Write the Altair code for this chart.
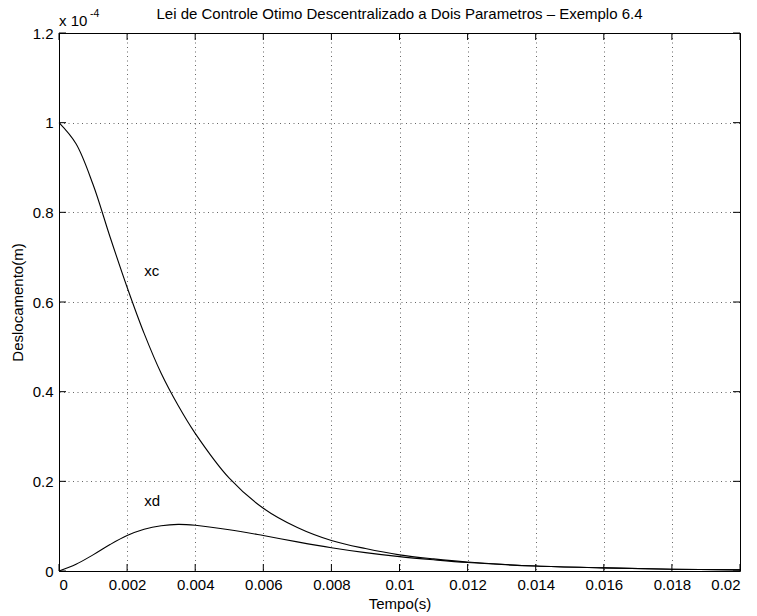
import altair as alt
import pandas as pd

# Data (displacement in units of 1e-4 m)
t = [0, 0.0005, 0.001, 0.0015, 0.002, 0.0025, 0.003, 0.0035, 0.004, 0.005,
     0.006, 0.007, 0.008, 0.009, 0.01, 0.011, 0.012, 0.014, 0.016, 0.018, 0.02]
xc = [1.0, 0.953, 0.862, 0.745, 0.633, 0.530, 0.441, 0.369, 0.307, 0.207,
      0.14, 0.097, 0.068, 0.050, 0.036, 0.027, 0.020, 0.011, 0.007, 0.004, 0.0025]
xd = [0.0, 0.015, 0.036, 0.059, 0.079, 0.093, 0.101, 0.104, 0.102, 0.092,
      0.079, 0.065, 0.052, 0.041, 0.032, 0.025, 0.019, 0.011, 0.007, 0.004, 0.0025]

x_ticks = [0, 0.002, 0.004, 0.006, 0.008, 0.01, 0.012, 0.014, 0.016, 0.018, 0.02]
y_ticks = [0, 0.2, 0.4, 0.6, 0.8, 1.0, 1.2]

label_text = ["xc", "xd"]
label_x = [0.0025, 0.0025]
label_y = [0.67, 0.157]

title_text = "Lei de Controle Otimo Descentralizado a Dois Parametros \u2013 Exemplo 6.4"

W, H = 681, 538
TL = 7
FONT = "Liberation Sans"
FS = 15

df = pd.DataFrame({"t": t * 2, "v": xc + xd,
                   "s": ["xc"] * len(t) + ["xd"] * len(t)})
xt = pd.DataFrame({"t": x_ticks})
yt = pd.DataFrame({"v": y_ticks})
lab = pd.DataFrame({"t": label_x, "v": label_y, "txt": label_text})

xscale = alt.Scale(domain=[0, 0.02], nice=False, zero=False)
yscale = alt.Scale(domain=[0, 1.2], nice=False, zero=False)


def X():
    return alt.X("t:Q", scale=xscale, title="Tempo(s)",
                 axis=alt.Axis(values=x_ticks, format="~g", labelPadding=6,
                               titlePadding=4))


def Y():
    return alt.Y("v:Q", scale=yscale, title="Deslocamento(m)",
                 axis=alt.Axis(values=y_ticks, format="~g", labelPadding=6,
                               titlePadding=7))


lines = alt.Chart(df).mark_line(color="black", strokeWidth=1.1,
                                interpolate="catmull-rom").encode(
    x=X(), y=Y(), detail="s:N")

bt = alt.Chart(xt).mark_rule(color="black").encode(
    x=X(), y=alt.value(H), y2=alt.value(H - TL))
tt = alt.Chart(xt).mark_rule(color="black").encode(
    x=X(), y=alt.value(0), y2=alt.value(TL))
lt = alt.Chart(yt).mark_rule(color="black").encode(
    y=Y(), x=alt.value(0), x2=alt.value(TL))
rt = alt.Chart(yt).mark_rule(color="black").encode(
    y=Y(), x=alt.value(W), x2=alt.value(W - TL))

labels = alt.Chart(lab).mark_text(align="left", baseline="middle", fontSize=FS,
                                  font=FONT, color="black").encode(
    x=X(), y=Y(), text="txt:N")

exp_base = alt.Chart(pd.DataFrame({"a": ["x 10"]})).mark_text(
    align="left", baseline="alphabetic", fontSize=FS, font=FONT, color="black"
).encode(x=alt.value(0), y=alt.value(-7), text="a:N")
exp_pow = alt.Chart(pd.DataFrame({"a": ["-4"]})).mark_text(
    align="left", baseline="alphabetic", fontSize=10.5, font=FONT, color="black"
).encode(x=alt.value(31), y=alt.value(-16), text="a:N")

title = alt.Chart(pd.DataFrame({"a": [title_text]})).mark_text(
    align="center", baseline="alphabetic", fontSize=FS, font=FONT, color="black"
).encode(x=alt.value(W / 2), y=alt.value(-14), text="a:N")

chart = alt.layer(lines, bt, tt, lt, rt, labels, exp_base, exp_pow, title).properties(
    width=W, height=H,
    background="white",
    autosize=alt.AutoSizeParams(type="none"),
    padding={"left": 59, "top": 33, "right": 17, "bottom": 45},
).configure_view(stroke="black", strokeWidth=1).configure_axis(
    labelFont=FONT, titleFont=FONT, labelFontSize=FS, titleFontSize=FS,
    labelColor="black", titleColor="black", titleFontWeight="normal",
    domain=False, ticks=False, grid=True, gridDash=[1, 3.5], gridColor="black",
    gridOpacity=0.6,
)

chart.save("out.html", embed_options={"renderer": "svg", "actions": False})
